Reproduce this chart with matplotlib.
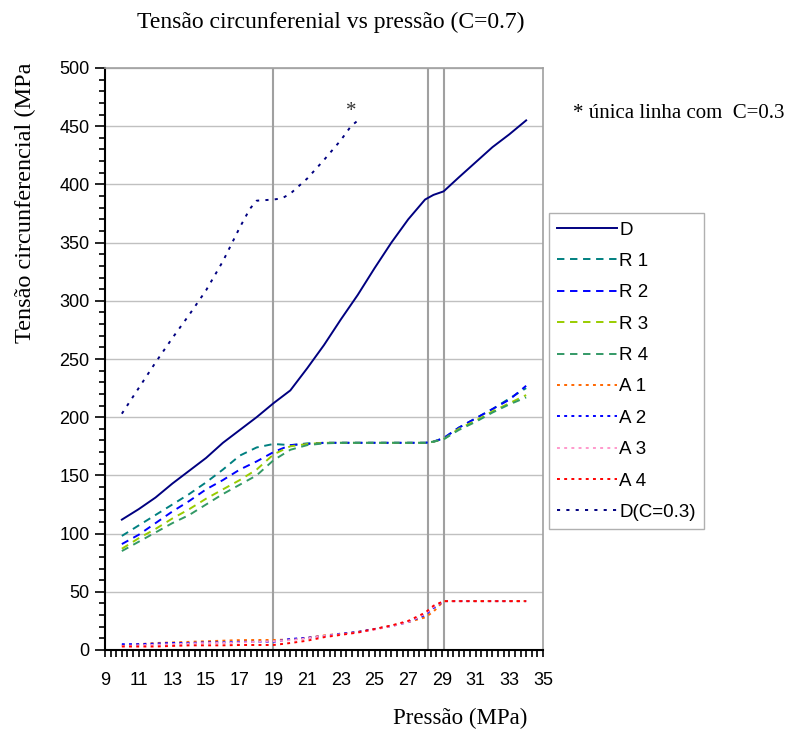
import numpy as np
import matplotlib
matplotlib.use("Agg")
import matplotlib.pyplot as plt
from matplotlib.ticker import MultipleLocator, FixedLocator

# Pressure grid (MPa) shared by the C=0.7 series
pressao = [10, 11, 12, 13, 14, 15, 16, 17, 18, 19, 20, 21, 22, 23, 24, 25,
           26, 27, 28, 28.5, 29.1, 30, 31, 32, 33, 34]

tensao_D = [112, 121, 131, 143, 154, 165, 178, 189, 200, 212, 223, 242, 262,
            284, 305, 328, 350, 370, 387, 391, 394, 406, 419, 432, 443, 455]

tensao_R1 = [98, 107, 116, 125, 134, 144, 155, 167, 174, 177, 176, 177.5, 178,
             178, 178, 178, 178, 178, 178, 179, 182, 191, 199, 207, 216, 225]
tensao_R2 = [91, 99, 109, 119, 128, 138, 146, 155, 162, 170, 176, 177, 178,
             178, 178, 178, 178, 178, 178, 179, 182, 191, 199, 207, 215, 227]
tensao_R3 = [87, 96, 104, 113, 121, 130, 138, 146, 155, 168, 175, 177, 178,
             178, 178, 178, 178, 178, 178, 179, 181, 190, 197, 205, 212, 219]
tensao_R4 = [85, 93, 101, 109, 116, 125, 134, 142, 150, 163, 172, 176, 177.5,
             178, 178, 178, 178, 178, 178, 179, 181, 189, 196, 204, 211, 217]

tensao_A1 = [4, 5, 6, 6.5, 7, 7.5, 8, 8.5, 8.6, 8.6, 9, 10.5, 12.5, 14, 15.5,
             18, 21, 24, 28, 33, 42, 42, 42, 42, 42, 42]
tensao_A2 = [5, 5, 5.5, 6, 6, 6.5, 6.5, 7, 7, 7, 9.5, 10.5, 12, 14, 15.5,
             18, 20.5, 24, 30, 36, 42, 42, 42, 42, 42, 42]
tensao_A3 = [3.5, 4, 4.5, 5, 5.5, 6, 6, 6.5, 7, 7.5, 8.5, 10, 12, 13.5, 15,
             17.5, 20.5, 24, 31, 37, 42, 42, 42, 42, 42, 42]
tensao_A4 = [3, 3, 3, 3.5, 4, 4, 4, 4.3, 4.3, 4.3, 6, 8, 11, 13, 15,
             18, 21, 25, 32, 38, 42, 42, 42, 42, 42, 42]

# C=0.3 run (shorter range)
pressao_c03 = [10, 11, 12, 13, 14, 15, 16, 17, 17.6, 18, 19, 19.5, 20, 21,
               22, 23, 23.6, 24.1]
tensao_D_c03 = [203, 225, 247, 268, 288, 309, 334, 363, 379, 386, 387, 388,
                392, 405, 421, 438, 450, 456]

# Reference pressures marked with vertical lines
marcas_pressao = [19, 28.15, 29.1]

x_ticks = list(range(9, 36, 2))
y_ticks = list(range(0, 501, 50))

W, H = 785, 730
fig = plt.figure(figsize=(W / 100, H / 100), dpi=100)
ax = fig.add_axes([105 / W, 1 - 650 / H, 438 / W, 582 / H])

ax.set_xlim(9, 35)
ax.set_ylim(0, 500)

# grid and reference lines
for yv in y_ticks[1:]:
    ax.axhline(yv, color="#c0c0c0", lw=1.0, zorder=0)
for xv in marcas_pressao:
    ax.axvline(xv, color="#a0a0a0", lw=1.5, zorder=0)

lw = 1.4
dash_R = (3.8, 2.9)
dot_A = (1.5, 2.2)
dot_D = (1.6, 3.2)

series = [
    ("D", pressao, tensao_D, "#000080", "-", None),
    ("R 1", pressao, tensao_R1, "#008080", "--", dash_R),
    ("R 2", pressao, tensao_R2, "#0000FF", "--", dash_R),
    ("R 3", pressao, tensao_R3, "#99CC00", "--", dash_R),
    ("R 4", pressao, tensao_R4, "#339966", "--", dash_R),
    ("A 1", pressao, tensao_A1, "#FF6600", ":", dot_A),
    ("A 2", pressao, tensao_A2, "#0000FF", ":", dot_A),
    ("A 3", pressao, tensao_A3, "#FF99CC", ":", dot_A),
    ("A 4", pressao, tensao_A4, "#FF0000", ":", dot_A),
    ("D(C=0.3)", pressao_c03, tensao_D_c03, "#000080", ":", dot_D),
]

handles = []
for label, xs, ys, color, ls, dashes in series:
    kw = dict(color=color, lw=lw, label=label, zorder=3)
    if dashes is not None:
        kw["dashes"] = dashes
        kw["dash_capstyle"] = "butt"
    (h,) = ax.plot(xs, ys, **kw)
    handles.append(h)

# axes styling
for side in ("top", "right"):
    ax.spines[side].set_color("#a0a0a0")
    ax.spines[side].set_linewidth(1.2)
for side in ("left", "bottom"):
    ax.spines[side].set_color("black")
    ax.spines[side].set_linewidth(1.5)

ax.xaxis.set_major_locator(FixedLocator(x_ticks))
ax.xaxis.set_minor_locator(FixedLocator(np.arange(9, 35.01, 1 / 3)))
ax.yaxis.set_major_locator(FixedLocator(y_ticks))
ax.yaxis.set_minor_locator(MultipleLocator(10))
ax.tick_params(axis="x", which="both", direction="out", length=5, width=1.2,
               labelsize=13, pad=11)
ax.tick_params(axis="y", which="major", direction="out", length=7, width=1.2,
               labelsize=13, pad=4)
ax.tick_params(axis="y", which="minor", direction="out", length=4, width=1.2)
for t in ax.get_xticklabels() + ax.get_yticklabels():
    t.set_fontfamily("Liberation Sans")

serif = "Liberation Serif"
fig.text(331 / W, 1 - 22 / H, "Tensão circunferenial vs pressão (C=0.7)",
         ha="center", va="center", fontsize=17, family=serif)
fig.text(25 / W, 1 - 203 / H, "Tensão circunferencial (MPa",
         ha="center", va="center", rotation=90, fontsize=17.5, family=serif)
fig.text(460 / W, 1 - 718 / H, "Pressão (MPa)",
         ha="center", va="center", fontsize=16.5, family=serif)
fig.text(573 / W, 1 - 113 / H, "* única linha com  C=0.3",
         ha="left", va="center", fontsize=15, family=serif)
ax.text(pressao_c03[-1] - 0.5, tensao_D_c03[-1] + 7, "*", ha="center",
        va="center", fontsize=15, family=serif, color="#333333")

leg = fig.legend(handles=handles, loc="upper left",
                 bbox_to_anchor=(549 / W, 1 - 213 / H), frameon=True,
                 fancybox=False, edgecolor="#b0b0b0", framealpha=1,
                 prop={"family": "Liberation Sans", "size": 13.5},
                 handlelength=3.15, handletextpad=0.15, labelspacing=0.76,
                 borderpad=0.45, borderaxespad=0)
leg.get_frame().set_linewidth(1.0)

fig.savefig("out.png", dpi=100)
